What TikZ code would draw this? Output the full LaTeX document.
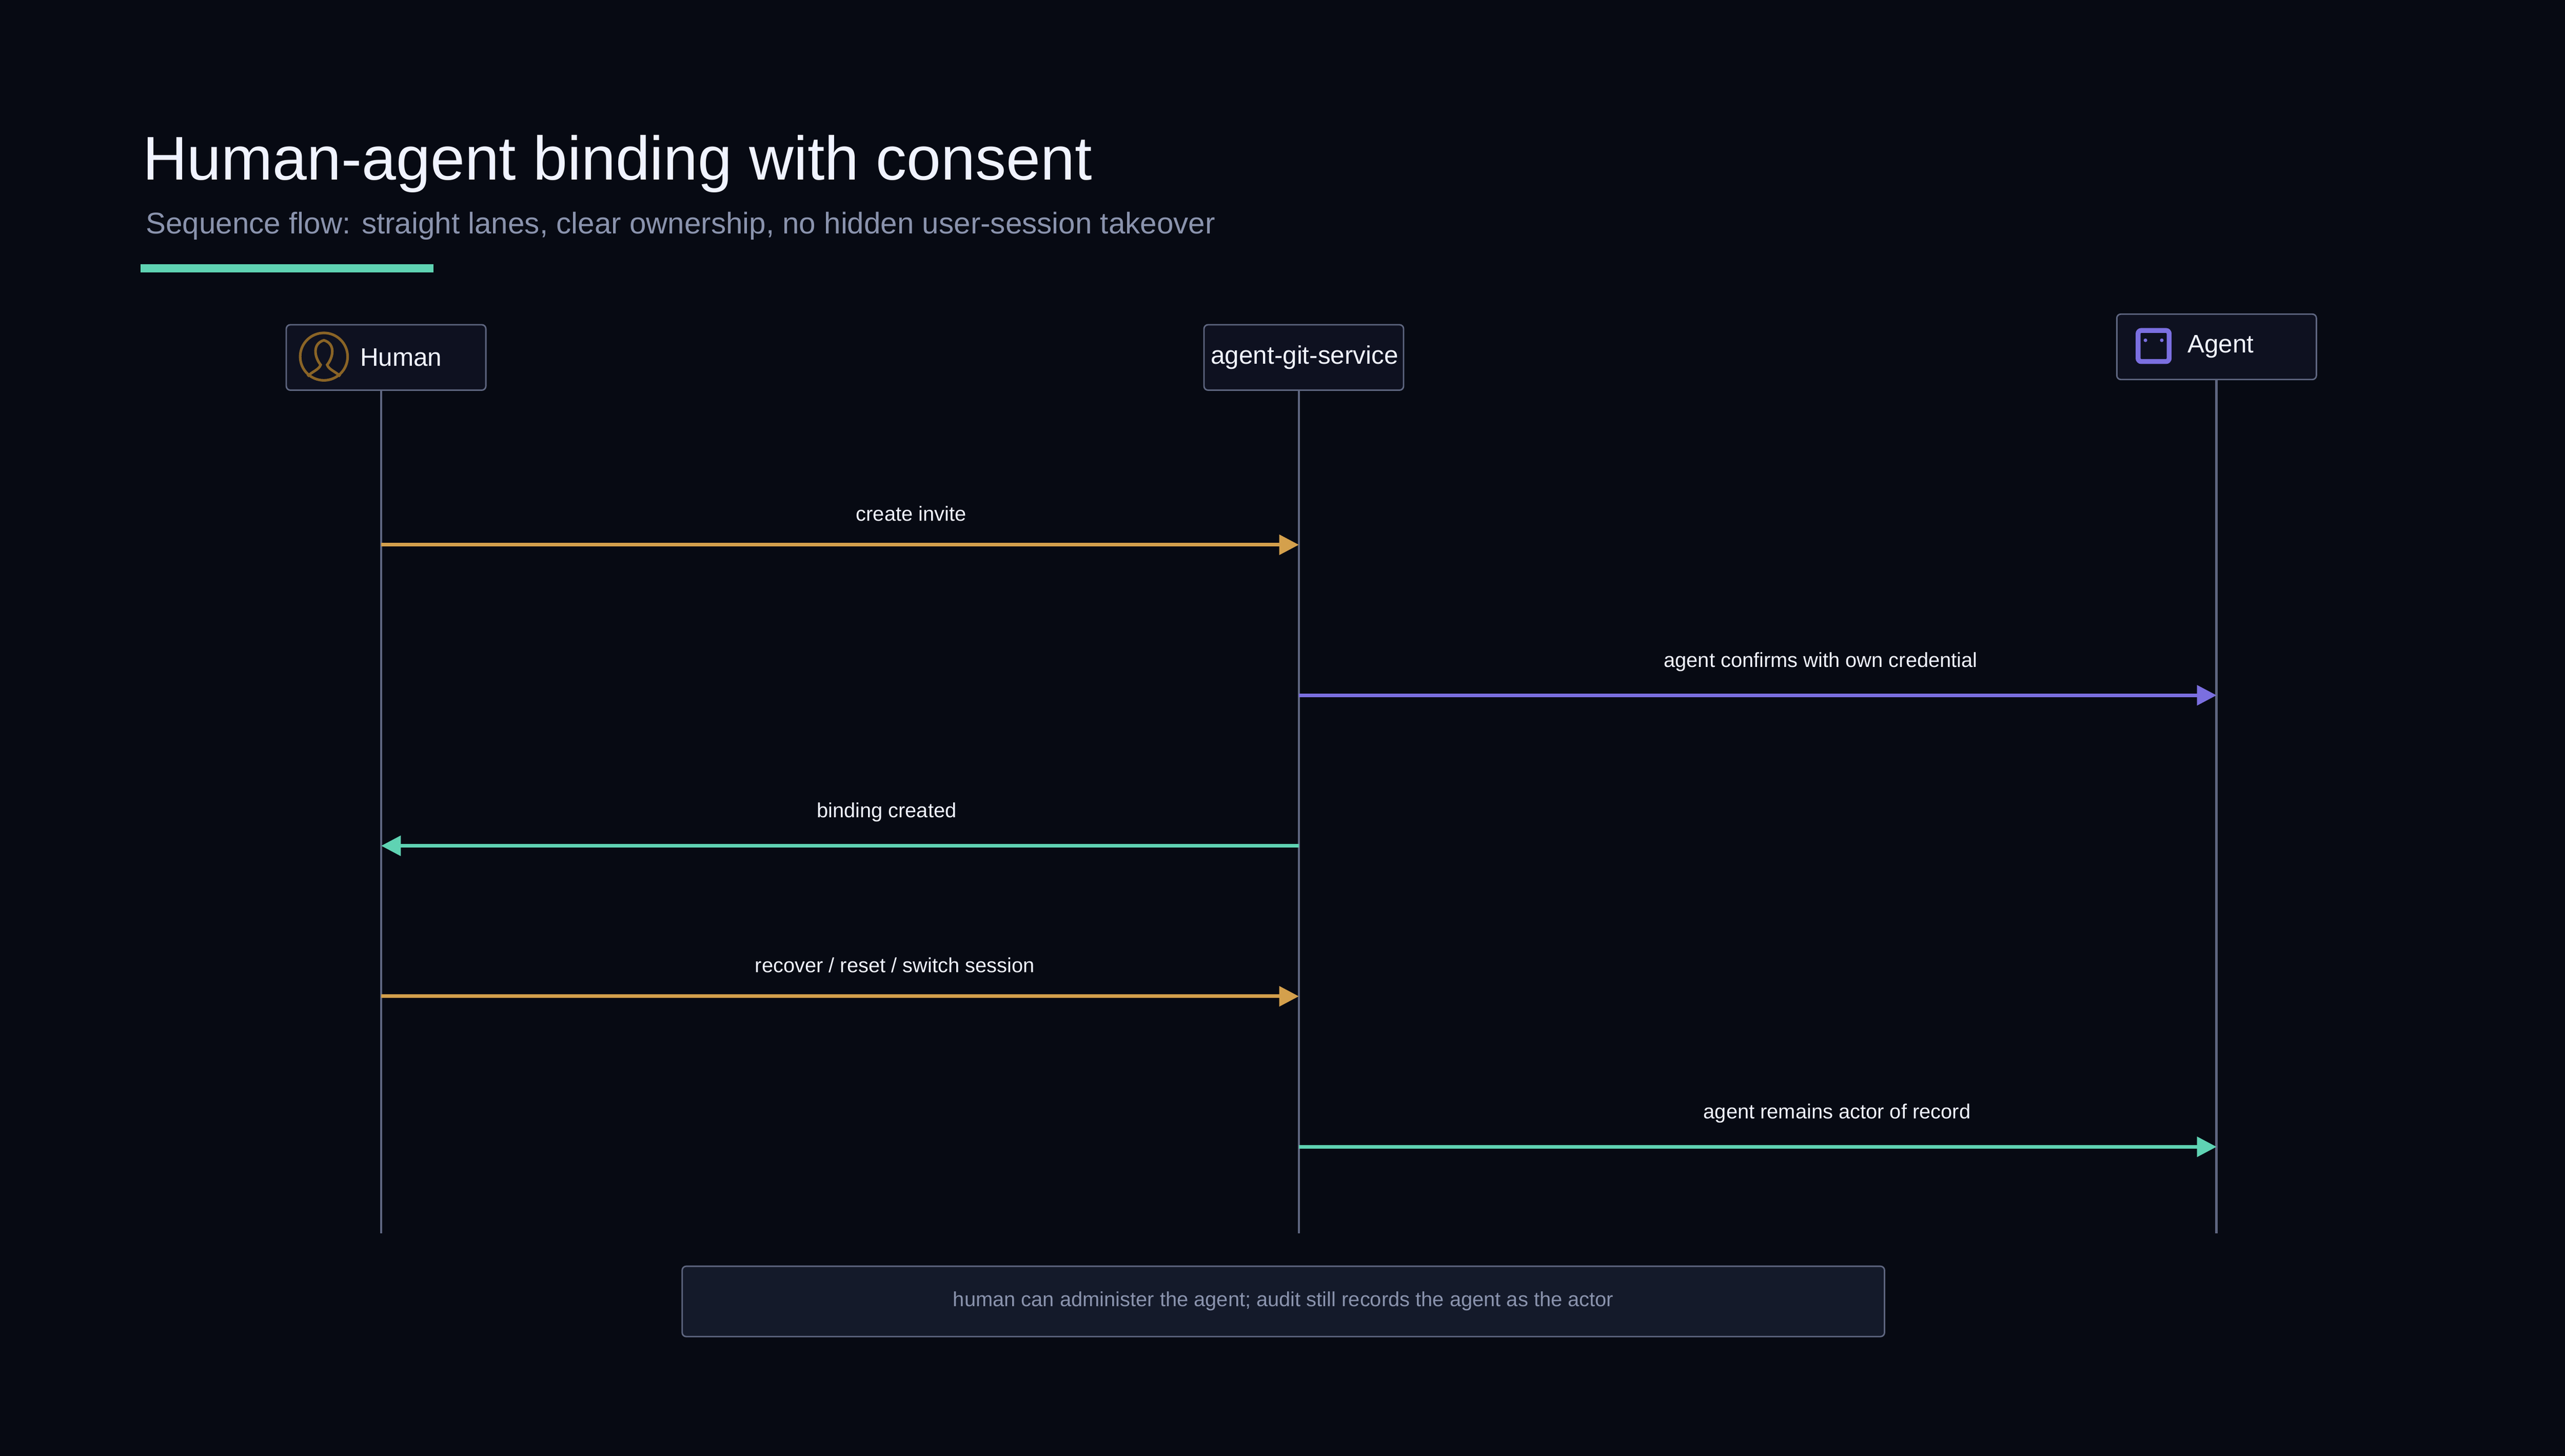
\documentclass[tikz,border=0pt]{standalone}
\usepackage{fontspec}
\setmainfont{Liberation Sans}
\usetikzlibrary{arrows.meta}
\definecolor{bgc}{HTML}{070A13}
\definecolor{boxc}{HTML}{0E1120}
\definecolor{notec}{HTML}{141A2A}
\definecolor{edgec}{HTML}{5E6680}
\definecolor{humanc}{HTML}{D4A04C}
\definecolor{iconc}{HTML}{8A6426}
\definecolor{agentc}{HTML}{7B6FE0}
\definecolor{tealc}{HTML}{5FD3B3}
\definecolor{subc}{HTML}{8A93AD}
\definecolor{txtc}{HTML}{F0F3FF}
\tikzset{
  actor/.style={draw=edgec, fill=boxc, rounded corners=2.5pt, line width=0.9pt, minimum width=122pt, minimum height=40pt, inner sep=0pt},
  actorlabel/.style={text=txtc, font=\fontsize{15.5}{18}\selectfont, inner sep=0pt},
  lane/.style={edgec, line width=1.5pt},
  msg/.style={line width=2.2pt, -{Triangle[length=12pt,width=12pt]}},
  msglabel/.style={text=txtc, font=\fontsize{12.5}{14}\selectfont, above=3pt}
}
\begin{document}
\begin{tikzpicture}[x=1pt,y=-1pt]
        \fill[bgc] (0,0) rectangle (1568,890);
        \useasboundingbox (0,0) rectangle (1568,890);
        % title
        \node[anchor=base west, text=txtc, font=\fontsize{37.7}{42}\selectfont, inner sep=0pt] (title) at (87,110) {Human-agent binding with consent};
        \node[anchor=base west, text=subc, font=\fontsize{18.3}{21}\selectfont, inner sep=0pt] (subtitle) at (89,143) {Sequence flow: straight lanes, clear ownership, no hidden user-session takeover};
        \fill[tealc] (86,161.5) rectangle (265,166.5);
        % actors
        \node[actor] (human) at (236,218.5) {};
        \node[actor] (service) at (797,218.5) {};
        \node[actor] (agent) at (1355,212) {};
        \node[actorlabel, anchor=west] at (220,218.5) {Human};
        \node[actorlabel] at (797.5,218.5) {agent-git-service};
        \node[actorlabel, anchor=west] at (1337,212) {Agent};
        % human icon
        \draw[iconc, line width=1.6pt] (198,218) circle (14.5);
        \draw[iconc, line width=1.6pt] (188,230) .. controls (191,227) and (195,226) .. (196,223) .. controls (192,218) and (191,210) .. (198,208) .. controls (205,210) and (204,218) .. (200,223) .. controls (201,226) and (205,227) .. (208,230);
        % agent icon
        \draw[agentc, line width=3pt, rounded corners=2pt] (1307,202) rectangle (1326,221);
        \fill[agentc] (1311.5,208) circle (1.1);
        \fill[agentc] (1321.5,208) circle (1.1);
        % lanes
        \coordinate (hEnd) at (233,754);
        \coordinate (sEnd) at (794,754);
        \coordinate (aEnd) at (1355,754);
        \draw[lane] (human.south -| hEnd) -- (hEnd);
        \draw[lane] (service.south -| sEnd) -- (sEnd);
        \draw[lane] (agent.south -| aEnd) -- (aEnd);
        % messages
        \draw[msg, humanc] (233,333) -- (794,333);
        \node[msglabel] at (557,325) {create invite};
        \draw[msg, agentc] (794,425) -- (1355,425);
        \node[msglabel] at (1113,417) {agent confirms with own credential};
        \draw[msg, tealc] (794,517) -- (233,517);
        \node[msglabel] at (542,509) {binding created};
        \draw[msg, humanc] (233,609) -- (794,609);
        \node[msglabel] at (547,601) {recover / reset / switch session};
        \draw[msg, tealc] (794,701) -- (1355,701);
        \node[msglabel] at (1123,693) {agent remains actor of record};
        % footer note
        \node[draw=edgec, fill=notec, rounded corners=2.5pt, line width=0.9pt, minimum width=735pt, minimum height=43pt, text=subc, font=\fontsize{12.5}{14}\selectfont] (note) at (784.5,795.5) {human can administer the agent; audit still records the agent as the actor};
\end{tikzpicture}
\end{document}
